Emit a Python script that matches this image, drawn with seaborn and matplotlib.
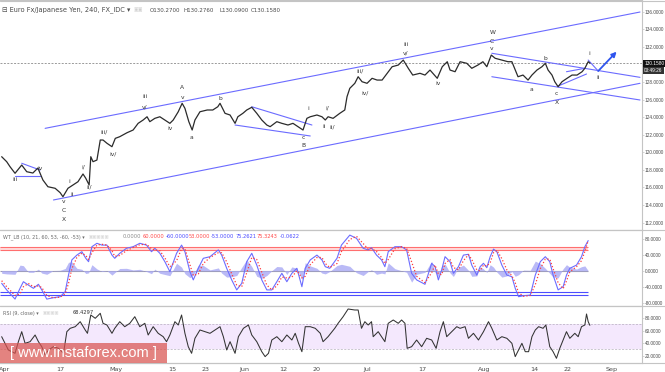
import numpy as np
import matplotlib
matplotlib.use('Agg')
from matplotlib import pyplot as plt
from matplotlib.lines import Line2D
from matplotlib.patches import Rectangle
import matplotlib.transforms as mtransforms
import seaborn as sns

# x axis = trading days counted from Mon 3 Apr 2017 (weekends skipped)
price_day = [-0.6, 0.3, 0.9, 1.8, 3.0, 3.9, 5.0, 5.9, 6.8, 7.7,
             9.0, 9.9, 10.4, 11.3, 12.2, 13.1, 14.0, 14.5, 15.1, 15.4,
             15.8, 16.5, 17.1, 17.6, 18.3, 19.2, 19.8, 20.6, 21.9, 23.0,
             23.9, 24.8, 25.5, 26.0, 26.9, 27.8, 28.7, 29.6, 30.2, 31.1,
             31.8, 32.3, 33.0, 33.6, 34.1, 35.0, 36.3, 37.3, 38.2, 38.6,
             39.5, 40.4, 41.3, 41.8, 42.7, 43.4, 44.3, 45.2, 46.1, 47.0,
             47.6, 48.8, 49.7, 50.8, 51.7, 52.6, 53.5, 54.2, 54.8, 56.0,
             56.9, 57.5, 58.0, 58.9, 60.1, 61.0, 61.4, 61.9, 62.8, 63.4,
             64.1, 65.0, 65.9, 66.8, 67.7, 68.6, 69.5, 70.6, 71.5, 72.4,
             73.2, 74.5, 75.4, 76.3, 77.6, 78.5, 79.4, 79.9, 80.8, 81.7,
             82.9, 83.8, 84.9, 85.8, 86.5, 87.3, 88.0, 89.2, 90.3, 91.0,
             91.6, 92.1, 93.0, 93.9, 94.6, 95.5, 96.4, 97.0, 97.5, 98.2,
             98.7, 99.3, 100.0, 100.9, 101.8, 102.7, 103.6, 104.1, 104.7, 105.0]
price = [119.50, 118.93, 118.36, 117.61, 118.55, 117.79, 117.64, 118.21, 116.85, 116.08,
         115.90, 115.40, 114.94, 115.90, 116.28, 116.65, 117.53, 117.04, 116.28, 119.50,
         118.93, 119.12, 121.40, 121.40, 121.03, 120.64, 121.59, 121.78, 122.23, 122.54,
         123.30, 123.68, 124.05, 123.49, 123.87, 124.05, 123.68, 123.30, 123.68, 124.62,
         125.58, 125.01, 123.49, 122.54, 123.68, 124.62, 124.82, 124.82, 125.19, 125.58,
         124.44, 124.25, 123.30, 124.05, 124.44, 124.82, 125.13, 124.44, 123.68, 123.11,
         122.92, 123.49, 123.30, 123.11, 123.30, 122.92, 122.54, 123.87, 124.05, 124.25,
         124.05, 123.68, 124.05, 123.87, 124.44, 124.82, 126.33, 127.29, 127.86, 128.61,
         128.04, 127.86, 128.43, 128.23, 128.23, 129.00, 129.75, 129.94, 130.51, 129.57,
         128.80, 129.00, 128.80, 129.37, 128.43, 129.75, 130.32, 129.37, 129.18, 130.32,
         130.14, 129.57, 129.94, 130.32, 129.75, 131.08, 130.71, 130.51, 130.32, 130.32,
         129.37, 128.61, 128.80, 128.23, 128.80, 129.37, 129.75, 130.14, 129.37, 128.80,
         128.04, 127.47, 128.04, 128.43, 128.80, 128.80, 129.18, 129.57, 130.32, 130.16]
last_price = 130.158

wt_day = [-0.6, 0.3, 1.8, 2.7, 3.3, 4.2, 5.1, 6.0, 6.6, 7.5,
          8.7, 9.9, 10.8, 11.4, 12.0, 12.9, 13.8, 14.5, 15.0, 15.6,
          16.5, 17.4, 18.3, 19.2, 19.7, 20.6, 21.8, 23.0, 24.2, 25.4,
          26.3, 26.9, 27.8, 28.7, 29.6, 30.8, 31.7, 32.3, 33.2, 33.8,
          34.7, 35.6, 36.8, 38.3, 38.9, 39.8, 40.7, 41.6, 42.5, 43.4,
          44.3, 45.2, 46.1, 47.0, 47.9, 48.8, 49.7, 50.6, 51.5, 52.4,
          53.3, 53.9, 54.8, 56.0, 56.9, 57.5, 58.3, 59.6, 60.4, 61.9,
          63.1, 64.3, 65.2, 65.8, 66.7, 67.6, 68.2, 68.8, 70.0, 71.2,
          72.1, 73.0, 73.9, 75.4, 76.6, 77.2, 77.8, 78.4, 79.0, 79.9,
          80.5, 81.4, 82.3, 83.2, 83.8, 84.7, 85.3, 85.9, 86.5, 87.1,
          87.7, 88.3, 89.2, 90.1, 91.0, 91.6, 92.2, 93.1, 94.3, 95.2,
          96.1, 97.0, 97.8, 98.4, 99.3, 100.2, 100.8, 101.4, 102.6, 103.5,
          104.1, 104.7]
wt1 = [-31.5, -48, -71, -44, -27.5, -36, -44, -34, -48, -71,
       -67.5, -65, -52.5, -11, 27, 39, 47.5, 31, 22.5, 60,
       68.5, 64, 64, 39, 31, 43.5, 56, 60, 68.5, 64,
       47.5, 56, 43.5, 22.5, -2.5, 43.5, 64, 47.5, -2.5, -23,
       6, 31, 35, 52, 39, 6, -23, -48, -31.5, 22.5,
       43.5, 14, -23, -48, -48, -27.5, -6.5, -27.5, -6.5, 6,
       -40, 6, 27, 39, 27, 10, 6, 31, 64, 89,
       81, 56, 52, 57.5, 39, 27, 10, 47.5, 60, 60,
       52, -6.5, -23, -34, 18.5, 10, -23, 2, 35, 22.5,
       -6.5, 10, 39, 41, 14, -11, 10, 18.5, 7.5, 35,
       54, 47.5, 14, -11, -15, -44, -65, -62.5, -61, -11,
       22.5, 35, 22.5, -11, -48, -40, -11, 6, 14, 35,
       60, 75.3]
wt2 = [-25, -40, -62, -58, -40, -32, -40, -38, -42, -62,
       -68, -66, -58, -32, 5, 33, 44, 38, 28, 45,
       64, 66, 64, 50, 36, 38, 50, 58, 65, 66,
       55, 52, 50, 32, 10, 25, 55, 55, 15, -12,
       -8, 18, 33, 45, 45, 22, -8, -36, -40, -5,
       33, 28, -4, -36, -48, -38, -16, -18, -16, 0,
       -18, -14, 15, 33, 33, 18, 8, 18, 48, 78,
       86, 68, 54, 55, 48, 33, 18, 28, 55, 60,
       56, 22, -14, -30, -5, 14, -8, -10, 18, 28,
       8, 2, 25, 40, 28, 2, 0, 14, 12, 20,
       45, 51, 30, 2, -13, -30, -55, -64, -62, -35,
       5, 29, 29, 5, -30, -45, -26, -3, 10, 25,
       48, 75.3]
wt_levels_red = [60, 53]
wt_levels_blue = [-60, -53]

rsi_day = [-0.6, 0.0, 0.6, 1.8, 2.4, 3.0, 3.6, 4.5, 5.4, 6.0,
           6.6, 7.2, 7.8, 8.7, 9.6, 10.5, 11.1, 11.7, 12.6, 13.5,
           14.4, 14.8, 15.4, 16.2, 17.1, 17.6, 18.3, 19.2, 19.7, 20.6,
           21.5, 22.4, 23.3, 24.2, 25.1, 25.7, 26.6, 27.5, 28.4, 29.0,
           29.6, 30.5, 31.1, 31.7, 32.3, 32.9, 33.5, 34.1, 35.0, 35.9,
           36.8, 37.7, 38.6, 39.2, 39.8, 40.4, 41.3, 41.9, 42.8, 43.7,
           44.3, 45.2, 46.1, 46.7, 47.3, 47.9, 48.8, 49.7, 50.6, 51.5,
           52.1, 52.7, 53.3, 53.9, 54.8, 55.7, 56.6, 57.1, 58.0, 59.2,
           59.8, 60.7, 61.6, 62.8, 63.4, 64.0, 64.6, 65.2, 65.8, 66.1,
           67.0, 67.6, 68.2, 68.8, 69.7, 70.6, 71.2, 71.8, 72.2, 73.0,
           73.9, 74.8, 75.7, 76.6, 77.4, 78.1, 78.7, 79.3, 80.2, 81.1,
           81.7, 82.6, 83.2, 84.1, 85.0, 85.9, 86.8, 87.4, 88.3, 89.2,
           90.1, 91.0, 91.6, 92.2, 92.8, 93.4, 94.0, 94.6, 95.2, 95.8,
           96.6, 97.1, 97.8, 98.4, 99.0, 99.6, 100.2, 100.8, 101.4, 102.3,
           102.9, 103.5, 104.1, 104.4, 104.7, 105.0]
rsi = [50.2, 39.6, 28.9, 23.6, 42.2, 58.2, 39.6, 42.2, 52.9, 42.2,
       34.2, 20.9, 28.9, 34.2, 31.6, 23.6, 58.2, 63.6, 66.2, 74.2,
       60.9, 55.6, 84.9, 79.6, 87.6, 71.6, 68.9, 55.6, 63.6, 74.2,
       66.2, 71.6, 82.2, 66.2, 71.6, 52.9, 66.2, 55.6, 50.2, 42.2,
       52.9, 74.2, 68.9, 84.9, 55.6, 34.2, 23.6, 47.6, 60.9, 58.2,
       55.6, 60.9, 66.2, 50.2, 28.9, 42.2, 23.6, 50.2, 63.6, 68.9,
       52.9, 42.2, 26.2, 18.3, 23.6, 44.9, 50.2, 42.2, 52.9, 44.9,
       55.6, 39.6, 26.2, 66.2, 66.2, 63.6, 55.6, 42.2, 50.2, 63.6,
       71.6, 82.2, 94.5, 92.9, 92.9, 63.6, 74.2, 68.9, 74.2, 50.2,
       58.2, 50.2, 42.2, 71.6, 76.9, 71.6, 76.9, 71.6, 31.6, 34.2,
       44.9, 34.2, 47.6, 44.9, 31.6, 58.2, 74.2, 50.2, 58.2, 66.2,
       63.6, 66.2, 47.6, 55.6, 44.9, 58.2, 74.2, 63.6, 44.9, 50.2,
       47.6, 39.6, 18.3, 28.9, 39.6, 26.2, 26.2, 50.2, 60.9, 66.2,
       63.6, 68.9, 34.2, 26.2, 15.6, 31.6, 44.9, 58.2, 47.6, 55.6,
       50.2, 66.2, 68.9, 86.5, 74.2, 68.4]

tick_dates = ['2017-04-03', '2017-04-17', '2017-05-01', '2017-05-15', '2017-05-23',
              '2017-06-01', '2017-06-12', '2017-06-20', '2017-07-03', '2017-07-17',
              '2017-08-01', '2017-08-14', '2017-08-22', '2017-09-01']
tick_labels = ['Apr', '17', 'May', '15', '23', 'Jun', '12', '20', 'Jul', '17',
               'Aug', '14', '22', 'Sep']

# drawn trend lines (day, price) pairs
channel_lines = [((7.2, 122.73), (114.0, 135.98)),
                 ((8.7, 114.57), (114.0, 127.86)),
                 ((87.4, 131.28), (114.0, 128.54)),
                 ((87.4, 128.61), (114.0, 125.96)),
                 ((99.3, 127.55), (104.4, 128.92)),
                 ((100.8, 129.18), (104.1, 129.57)),
                 ((1.8, 117.30), (6.3, 117.30)),
                 ((3.0, 118.75), (6.3, 117.98)),
                 ((44.3, 125.19), (55.1, 123.11)),
                 ((41.3, 123.11), (54.8, 121.86)),
                 ((104.7, 130.51), (106.5, 129.26))]
arrow_from = (106.5, 129.26)
arrow_to = (109.8, 131.46)

wave_labels = [('iii', 1.8, 116.85), ('iv', 6.2, 118.18), ('v', 10.5, 114.37),
               ('C', 10.5, 113.35), ('X', 10.5, 112.29), ('i', 11.5, 116.65),
               ('ii', 12.0, 115.25), ('i/', 14.1, 118.29), ('ii/', 15.1, 116.01),
               ('iii/', 17.8, 122.35), ('iv/', 19.4, 119.81), ('iii', 25.1, 126.33),
               ('v/', 25.1, 125.19), ('iv', 29.7, 122.73), ('A', 31.8, 127.40),
               ('v', 31.8, 126.22), ('a', 33.5, 121.71), ('b', 38.6, 126.15),
               ('c', 53.6, 121.71), ('B', 53.6, 120.72), ('i', 54.5, 125.01),
               ('ii', 57.3, 122.92), ('i/', 57.9, 125.01), ('ii/', 58.8, 122.92),
               ('iii/', 63.7, 129.29), ('iv/', 64.6, 126.72), ('iii', 72.0, 132.33),
               ('v/', 72.0, 131.28), ('iv', 77.8, 127.86), ('W', 87.6, 133.62),
               ('C', 87.4, 132.60), ('v', 87.4, 131.77), ('a', 94.6, 127.18),
               ('b', 97.1, 130.71), ('c', 99.0, 126.72), ('X', 99.0, 125.69),
               ('i', 104.8, 131.28), ('ii', 106.5, 128.54)]

sns.set_style('white')
plt.rcParams['font.family'] = ['DejaVu Sans']

W, H = 665, 372
fig = plt.figure(figsize=(W / 100, H / 100), dpi=100)
fig.patch.set_facecolor('white')

ax1 = fig.add_axes([0, 1 - 230 / H, 642 / W, 230 / H])
ax2 = fig.add_axes([0, 1 - 306 / H, 642 / W, 76 / H])
ax3 = fig.add_axes([0, 1 - 363 / H, 642 / W, 57 / H])

xmin, xmax = -0.9, 114.36
grid_col = '#c4c4c4'
txt_col = '#4a4a4a'
axis_font = 'Liberation Sans'
for ax in (ax1, ax2, ax3):
    ax.set_xlim(xmin, xmax)
    ax.set_facecolor('white')
    ax.yaxis.tick_right()
    ax.tick_params(axis='y', labelsize=3.4, length=1.2, width=0.5, pad=0.6,
                   colors=txt_col, direction='out')
    ax.tick_params(axis='y', color=grid_col)
    for s in ax.spines.values():
        s.set_color(grid_col)
        s.set_linewidth(0.8)
    ax.spines['left'].set_visible(False)
    ax.set_xlabel('')
    ax.set_ylabel('')

# ---- price panel ----
ax1.set_ylim(111.15, 137.35)
ax1.axhline(last_price, color='#9a9a9a', lw=0.7, ls=(0, (2, 1.5)), zorder=1)
for (x0, y0), (x1, y1) in channel_lines:
    ax1.plot([x0, x1], [y0, y1], color='#6b6bff', lw=0.8, zorder=2)
ax1.annotate('', xy=arrow_to, xytext=arrow_from,
             arrowprops=dict(arrowstyle='-|>', color='#2f55ee', lw=1.3,
                             mutation_scale=7, shrinkA=0, shrinkB=0), zorder=4)
sns.lineplot(x=price_day, y=price, ax=ax1, color='#2b2b2b', lw=0.9,
             estimator=None, sort=False, zorder=3)
for t, d, p in wave_labels:
    ax1.text(d, p, t, fontsize=4.3, color='#333333', ha='center', va='center', zorder=5)
pticks = [v for v in range(112, 137, 2) if v != 130]
ax1.set_yticks(pticks)
ax1.set_yticklabels([f'{v:.4f}' for v in pticks])
ax1.set_xticks([])
blend = mtransforms.blended_transform_factory(ax1.transAxes, ax1.transData)
ax1.text(1.0035, last_price, f'{last_price:.4f}', transform=blend, fontsize=3.4,
         family=axis_font, color='white', va='center', ha='left', zorder=6,
         bbox=dict(boxstyle='square,pad=0.2', fc='#111111', ec='none'))
ax1.annotate('03:49:26', xy=(1.0035, last_price), xycoords=blend,
             xytext=(0, -5.4), textcoords='offset points', fontsize=3.4,
             family=axis_font, color='white', va='center', ha='left', zorder=6,
             bbox=dict(boxstyle='square,pad=0.2', fc='#333333', ec='none'),
             annotation_clip=False)

# ---- WT_LB panel ----
ax2.set_ylim(-88.25, 101.75)
data_end = max(wt_day)
ax2.fill_between([xmin, data_end], wt_levels_red[1], wt_levels_red[0],
                 color='#ffdcdc', lw=0, zorder=1)
for lv in wt_levels_red:
    ax2.hlines(lv, xmin, data_end, color='#ff6f6f', lw=0.8, zorder=2)
for lv in wt_levels_blue:
    ax2.hlines(lv, xmin, data_end, color='#4d4dff', lw=0.8, zorder=2)
ax2.hlines(0, xmin, data_end, color='#9a9ab4', lw=0.8, zorder=2)
hist = np.array(wt1) - np.array(wt2)
ax2.fill_between(wt_day, 0, hist, color='#aeaef5', alpha=0.85, lw=0, zorder=2)
sns.lineplot(x=wt_day, y=wt1, ax=ax2, color='#6c6cff', lw=0.8,
             estimator=None, sort=False, zorder=3)
sns.lineplot(x=wt_day, y=wt2, ax=ax2, color='#ff3c3c', lw=0.9,
             estimator=None, sort=False, zorder=4, linestyle=(0, (1, 1.6)))
ax2.set_yticks([-80, -40, 0, 40, 80])
ax2.set_yticklabels([f'{v:.4f}' for v in [-80, -40, 0, 40, 80]])
ax2.set_xticks([])

# ---- RSI panel ----
ax3.set_ylim(8.1, 99.3)
ax3.axhspan(30, 70, color='#f4e8fd', lw=0, zorder=0)
for lv in (30, 70):
    ax3.axhline(lv, color='#b5aebd', lw=0.5, ls=(0, (3, 2)), zorder=1)
sns.lineplot(x=rsi_day, y=rsi, ax=ax3, color='#333333', lw=0.75,
             estimator=None, sort=False, zorder=3)
ax3.set_yticks([20, 40, 60, 80])
ax3.set_yticklabels([f'{v:.4f}' for v in [20, 40, 60, 80]])
tick_pos = np.busday_count('2017-04-03', tick_dates)
ax3.set_xticks(tick_pos)
ax3.set_xticklabels(tick_labels)
ax3.tick_params(axis='x', labelsize=4.6, length=2, width=0.5, pad=1,
                colors=txt_col, color=grid_col)

for ax in (ax1, ax2, ax3):
    for lab in ax.get_yticklabels():
        lab.set_fontfamily(axis_font)

# full-width separators
for py in (0.5, 230, 306, 363):
    fig.add_artist(Line2D([0, 1], [1 - py / H, 1 - py / H], color=grid_col,
                          lw=0.8, transform=fig.transFigure))

# ---- headers ----
def ftext(px, py, s, color=txt_col, size=4.6, **kw):
    fig.text(px / W, 1 - py / H, s, color=color, fontsize=size, va='center', ha='left', **kw)

ftext(2, 10, '\u229f Euro Fx/Japanese Yen, 240, FX_IDC \u25be', size=4.8)
ftext(134, 10, '\u25a3\u25a3', color='#d0d0d0', size=3.6)
for s, px in [('O130.2700', 150), ('H130.2760', 183), ('L130.0900', 219), ('C130.1580', 251)]:
    ftext(px, 10, s, size=4.0)

ftext(3, 237, 'WT_LB (10, 21, 60, 53, -60, -53) \u25be', color='#6a6a6a', size=3.5)
ftext(89, 237, '\u25a3\u25a3\u25a3\u25a3\u25a3', color='#d8d8d8', size=3.2)
wt_vals = [('0.0000', 123, '#8a8a8a'), ('60.0000', 143, '#ff4a4a'),
           ('-60.0000', 165.7, '#4a4aff'), ('53.0000', 189, '#ff4a4a'),
           ('-53.0000', 211, '#4a4aff'), ('75.2621', 236, '#4a4aff'),
           ('75.3243', 257, '#ff4a4a'), ('-0.0622', 280, '#4a4aff')]
for s, px, c in wt_vals:
    ftext(px, 237, s, color=c, size=3.7)

ftext(3, 313, 'RSI (9, close) \u25be', color='#6a6a6a', size=3.5)
ftext(43, 313, '\u25a3\u25a3\u25a3\u25a3', color='#d8d8d8', size=3.2)
ftext(73, 313, '68.4297', color='#333333', size=3.7)

# watermark
fig.add_artist(Rectangle((0, 1 - 363.3 / H), 167 / W, 20.6 / H, transform=fig.transFigure,
                         fc='#d9534f', ec='none', alpha=0.72, zorder=10))
fig.text(83.5 / W, 1 - 353.5 / H, '[ www.instaforex.com ]', color='white',
         fontsize=10.5, family='Liberation Sans', ha='center', va='center', zorder=11)

fig.savefig('out.png', dpi=100)
